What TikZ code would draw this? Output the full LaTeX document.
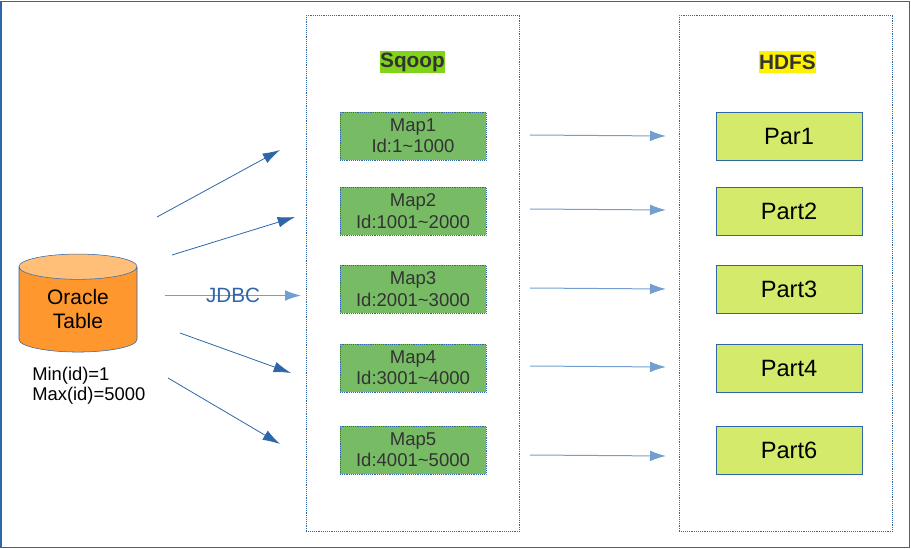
\documentclass[tikz,border=0pt]{standalone}
\usepackage{fontspec}
\setmainfont{Liberation Sans}
\usepackage{xcolor}
\usetikzlibrary{arrows.meta, positioning, shapes.geometric}
\definecolor{frameblue}{HTML}{2F66A8}
\definecolor{arrowlight}{HTML}{729FCF}
\definecolor{mapgreen}{HTML}{77BC65}
\definecolor{partlime}{HTML}{D4EA6B}
\definecolor{sqoopgreen}{HTML}{81D41A}
\definecolor{tabletop}{HTML}{FFBF78}
\definecolor{tablebody}{HTML}{FF972F}
\definecolor{darktext}{HTML}{333333}
\tikzset{
  mapbox/.style={draw=frameblue, densely dotted, fill=mapgreen, text=darktext, minimum width=109.5pt, minimum height=36pt, inner sep=0pt, align=center, font=\fontsize{13.9pt}{16pt}\selectfont},
  partbox/.style={draw=frameblue, fill=partlime, minimum width=109.5pt, minimum height=36pt, inner sep=0pt, font=\fontsize{17.7pt}{20pt}\selectfont},
  groupbox/.style={draw=frameblue, densely dotted, minimum width=160pt, minimum height=387pt},
  headlabel/.style={text=darktext, minimum height=17pt, inner xsep=0pt, inner ysep=0pt, font=\bfseries\fontsize{15.6pt}{18pt}\selectfont},
  darkarrow/.style={draw=frameblue, -{Latex[length=13pt, width=8pt]}, line width=0.6pt},
  lightarrow/.style={draw=arrowlight, -{Latex[length=12pt, width=8pt]}, line width=0.75pt}
}
\begin{document}
\begin{tikzpicture}[x=0.75pt, y=-0.75pt]
\useasboundingbox (0,0) rectangle (911,549);
\node[draw=frameblue, line width=1pt, minimum width=681pt, minimum height=409.5pt, anchor=north west] (frame) at (0.5,1) {};

% source table
\node[cylinder, shape border rotate=90, draw=frameblue, cylinder uses custom fill, cylinder end fill=tabletop, cylinder body fill=tablebody, aspect=0.41, minimum width=88.5pt, minimum height=73.5pt, inner sep=0pt, align=center, font=\fontsize{15.7pt}{18pt}\selectfont] (table) at (78,309.5) {Oracle\\Table};
\node[align=left, inner sep=0pt, anchor=north west, font=\fontsize{13.8pt}{15pt}\selectfont] (range) at (32,367) {Min(id)=1\\Max(id)=5000};

% sqoop
\node[groupbox] (sqoop) at (413,273) {};
\node[headlabel, fill=sqoopgreen] (sqooplabel) at (412.5,62) {Sqoop};
\node[mapbox] (map1) at (413,136) {Map1\\Id:1\textasciitilde1000};
\node[mapbox] (map2) at (413,211) {Map2\\Id:1001\textasciitilde2000};
\node[mapbox] (map3) at (413,289) {Map3\\Id:2001\textasciitilde3000};
\node[mapbox] (map4) at (413,368) {Map4\\Id:3001\textasciitilde4000};
\node[mapbox] (map5) at (413,450) {Map5\\Id:4001\textasciitilde5000};

% hdfs
\node[groupbox] (hdfs) at (786,273) {};
\node[headlabel, fill=yellow] (hdfslabel) at (787.5,62) {HDFS};
\node[partbox] (part1) at (789,136) {Par1};
\node[partbox] (part2) at (789,211) {Part2};
\node[partbox] (part3) at (789,289) {Part3};
\node[partbox] (part4) at (789,368) {Part4};
\node[partbox] (part6) at (789,450) {Part6};

% jdbc arrows
\coordinate (src1) at (157,217);
\coordinate (dst1) at (280,150);
\coordinate (src2) at (172,255);
\coordinate (dst2) at (295,217);
\coordinate (src3) at (165,295.5);
\coordinate (dst3) at (301,295.5);
\coordinate (src4) at (180,333);
\coordinate (dst4) at (291,373);
\coordinate (src5) at (168,378);
\coordinate (dst5) at (280,444);
\draw[darkarrow] (src1) -- (dst1);
\draw[darkarrow] (src2) -- (dst2);
\draw[lightarrow] (src3) -- (dst3) node[pos=0.5, text=frameblue, inner sep=0pt, font=\fontsize{15.5pt}{18pt}\selectfont] (jdbc) {JDBC};
\draw[darkarrow] (src4) -- (dst4);
\draw[darkarrow] (src5) -- (dst5);

% write arrows
\foreach \i/\a/\b in {1/135/136, 2/209/210, 3/288/289, 4/366/367, 5/455/456} {
  \coordinate (out\i) at (530,\a);
  \coordinate (in\i) at (666,\b);
  \draw[lightarrow] (out\i) -- (in\i);
}
\end{tikzpicture}
\end{document}
